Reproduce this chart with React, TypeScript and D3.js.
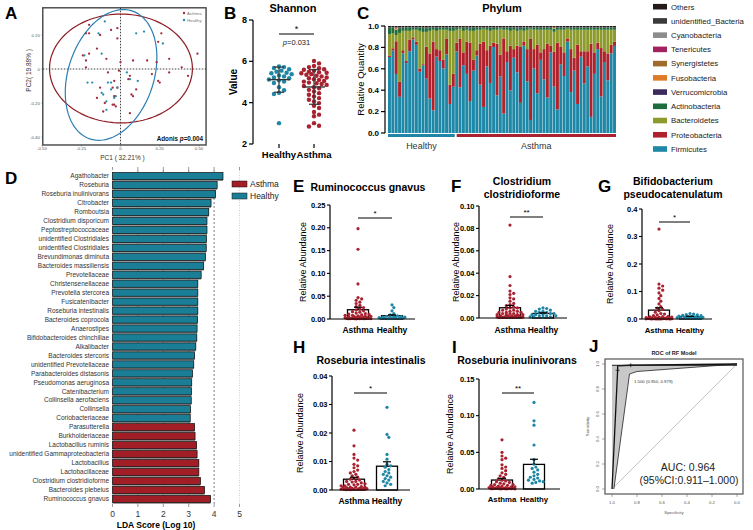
import React from 'react';
import * as d3 from 'd3';

const FONT = "'Liberation Sans', Arial, Helvetica, sans-serif";
const RED = '#a82230';
const TEAL = '#1f87a5';

// ---------------- A: PCoA ----------------
const pcoaAsthma = [[-0.20,0.26],[-0.22,0.21],[-0.20,0.21],[-0.13,0.20],[-0.15,0.12],[-0.24,0.08],[-0.20,0.09],[-0.09,0.06],[-0.22,0.05],[-0.22,0.01],[-0.08,-0.02],[-0.04,-0.07],[-0.13,-0.11],[-0.02,-0.11],[-0.04,-0.16],[-0.15,-0.17],[-0.04,-0.21],[-0.03,-0.22],[-0.11,-0.25],[-0.02,0.24],[-0.06,0.23],[-0.02,0.18],[0.26,0.21],[0.24,0.16],[0.49,0.09],[0.31,0.06],[0.08,0.05],[0.17,0.05],[0.00,0.04],[0.23,0.04],[0.39,0.01],[0.20,-0.03],[0.31,-0.02],[0.43,-0.04],[0.06,-0.04],[0.05,-0.06],[0.24,-0.07],[0.25,-0.08],[-0.05,-0.11],[0.10,-0.12],[0.07,-0.15],[-0.05,-0.21],[0.06,-0.26],[0.08,-0.16],[-0.01,-0.01],[-0.10,-0.20]];
const pcoaHealthy = [[-0.10,0.28],[-0.14,0.21],[-0.23,0.08],[-0.12,0.09],[-0.21,-0.08],[-0.18,-0.08],[-0.12,-0.14],[-0.11,-0.15],[-0.08,-0.08],[-0.06,-0.12],[-0.09,-0.19],[-0.09,-0.24],[-0.02,-0.11],[0.10,0.21],[0.15,0.22],[0.27,0.15],[0.04,-0.02],[0.06,-0.06],[0.11,-0.07],[-0.03,-0.16],[-0.06,-0.08],[-0.04,-0.17]];
const ellipseAsthma = { cx: 0.003, cy: 0.003, rx: 0.455, ry: 0.32, angle: 0 };
const ellipseHealthy = { cx: -0.06, cy: -0.035, rx: 0.27, ry: 0.40, angle: -22 };
const pcoaXTicks = [-0.5, -0.25, 0, 0.25, 0.5];
const pcoaXTickLabels = ['-0.50', '-0.25', '0', '0.25', '0.50'];
const pcoaYTicks = [-0.4, -0.2, 0, 0.2];
const pcoaYTickLabels = ['-0.40', '-0.20', '0', '0.20'];

// ---------------- B: Shannon ----------------
const shannonHealthy = [5.75,5.72,5.68,5.62,5.55,5.5,5.45,5.42,5.38,5.32,5.27,5.22,5.18,5.12,5.08,5.02,4.95,4.75,4.6,4.48,4.42,3.01];
const shannonAsthma = [6.02,5.9,5.78,5.72,5.67,5.62,5.59,5.55,5.5,5.47,5.45,5.42,5.38,5.35,5.3,5.27,5.22,5.18,5.13,5.1,5.05,5.02,4.97,4.94,4.9,4.86,4.81,4.75,4.7,4.62,4.54,4.46,4.38,4.3,4.22,4.14,4.06,3.98,3.85,3.74,3.55,3.42,3.34,3.01,2.88,2.85];
const shannonTicks = [2, 4, 6, 8];

// ---------------- C: Phylum ----------------
const sampleGroups = [...Array(20).fill('Healthy'), ...Array(48).fill('Asthma')];
const firmicutes = [0.70,0.76,0.56,0.34,0.74,0.65,0.76,0.87,0.82,0.57,0.63,0.51,0.32,0.21,0.71,0.67,0.60,0.73,0.27,0.43,
  0.76,0.42,0.63,0.55,0.30,0.58,0.72,0.45,0.24,0.62,0.47,0.80,0.35,0.52,0.18,0.66,0.40,0.70,0.57,0.28,0.82,0.48,0.12,0.60,0.37,0.68,0.50,0.33,0.75,0.44,0.22,0.64,0.53,0.85,0.38,0.58,0.27,0.71,0.46,0.62,0.15,0.55,0.78,0.34,0.66,0.49,0.74,0.81];
const proteobacteria = [0.01,0.02,0.31,0.14,0.03,0.02,0.11,0.02,0.03,0.03,0.01,0.30,0.42,0.64,0.07,0.10,0.08,0.15,0.18,0.12,
  0.08,0.45,0.12,0.30,0.55,0.10,0.05,0.38,0.60,0.15,0.35,0.04,0.48,0.20,0.70,0.10,0.42,0.08,0.25,0.52,0.04,0.30,0.75,0.18,0.45,0.07,0.28,0.50,0.06,0.33,0.62,0.16,0.22,0.03,0.40,0.12,0.55,0.05,0.30,0.14,0.68,0.20,0.06,0.45,0.10,0.25,0.08,0.04];
const bacteroidetes = [0.20,0.14,0.06,0.46,0.18,0.28,0.08,0.07,0.11,0.35,0.30,0.14,0.21,0.11,0.17,0.19,0.28,0.08,0.50,0.40,
  0.12,0.09,0.20,0.11,0.11,0.27,0.19,0.13,0.12,0.19,0.14,0.12,0.13,0.24,0.08,0.20,0.14,0.18,0.14,0.16,0.10,0.18,0.09,0.18,0.14,0.21,0.18,0.13,0.15,0.19,0.12,0.16,0.21,0.09,0.18,0.26,0.14,0.20,0.20,0.20,0.13,0.21,0.12,0.17,0.20,0.22,0.14,0.11];
const actinobacteria = [0.06,0.05,0.05,0.04,0.03,0.03,0.03,0.02,0.02,0.03,0.04,0.03,0.03,0.02,0.03,0.02,0.02,0.02,0.03,0.03,
  0.02,0.01,0.03,0.02,0.02,0.03,0.02,0.02,0.01,0.02,0.03,0.02,0.02,0.01,0.02,0.02,0.03,0.02,0.02,0.02,0.03,0.02,0.01,0.02,0.02,0.02,0.02,0.02,0.02,0.03,0.02,0.02,0.02,0.01,0.02,0.02,0.02,0.02,0.02,0.02,0.02,0.02,0.02,0.02,0.02,0.02,0.02,0.02];
const verrucomicrobia = [0,0,0,0.01,0,0,0,0,0,0,0,0.01,0,0,0,0,0,0,0,0,
  0,0,0,0,0.01,0,0,0,0,0,0,0,0,0,0,0,0,0,0.01,0,0,0,0,0,0,0,0,0,0,0,0,0,0,0,0,0,0,0,0,0,0,0,0,0,0,0,0,0];
const fusobacteria = [0,0,0.02,0,0,0,0,0,0,0,0,0,0,0,0,0,0,0,0,0,
  0,0,0,0,0,0,0,0,0,0,0,0,0,0,0,0,0,0,0,0,0,0,0,0,0,0,0,0,0,0.01,0,0,0,0,0,0,0,0,0,0,0,0,0,0,0,0,0,0];
const synergistetes = [0,0,0,0,0,0,0,0,0,0,0,0,0,0,0,0,0,0,0,0,
  0,0,0,0,0,0,0,0,0,0,0,0,0,0,0,0,0,0,0,0,0,0,0,0,0,0,0,0,0,0,0,0,0,0,0,0,0,0,0,0,0,0,0,0,0,0,0,0];
const tenericutes = [0,0,0,0,0,0,0,0,0,0,0,0,0,0,0,0,0,0,0,0,
  0,0,0,0,0,0,0,0,0,0,0,0,0,0,0,0,0,0,0,0,0,0,0,0,0,0,0,0,0,0,0,0,0,0,0,0,0,0,0,0,0,0,0,0,0,0,0,0];
const cyanobacteria = [0,0,0,0,0,0,0,0,0,0,0,0,0,0,0,0,0,0,0,0,
  0,0,0,0,0,0,0,0,0,0,0,0,0,0,0,0,0,0,0,0,0,0,0,0,0,0,0,0,0,0,0,0,0,0,0,0,0,0,0,0,0,0,0,0,0,0,0,0];
const unidentifiedBacteria = [0.005,0.005,0.005,0.005,0.005,0.005,0.005,0.005,0.005,0.005,0.005,0.005,0.005,0.005,0.005,0.005,0.005,0.005,0.005,0.005,
  0.005,0.005,0.005,0.005,0.005,0.005,0.005,0.005,0.005,0.005,0.005,0.005,0.005,0.005,0.005,0.005,0.005,0.005,0.005,0.005,0.005,0.005,0.005,0.005,0.005,0.005,0.005,0.005,0.005,0.005,0.005,0.005,0.005,0.005,0.005,0.005,0.005,0.005,0.005,0.005,0.005,0.005,0.005,0.005,0.005,0.005,0.005,0.005];
const others = [0.01,0.01,0.01,0.01,0.01,0.01,0.01,0.01,0.01,0.01,0.01,0.01,0.01,0.01,0.01,0.01,0.01,0.01,0.01,0.01,
  0.01,0.01,0.01,0.01,0.01,0.01,0.01,0.01,0.01,0.01,0.01,0.01,0.01,0.01,0.01,0.01,0.01,0.01,0.01,0.01,0.01,0.01,0.01,0.01,0.01,0.01,0.01,0.01,0.01,0.01,0.01,0.01,0.01,0.01,0.01,0.01,0.01,0.01,0.01,0.01,0.01,0.01,0.01,0.01,0.01,0.01,0.01,0.01];
const phylumKeys = ['Firmicutes','Proteobacteria','Bacteroidetes','Actinobacteria','Verrucomicrobia','Fusobacteria','Synergistetes','Tenericutes','Cyanobacteria','unidentified_Bacteria','Others'];
const phylumSeries = [firmicutes, proteobacteria, bacteroidetes, actinobacteria, verrucomicrobia, fusobacteria, synergistetes, tenericutes, cyanobacteria, unidentifiedBacteria, others];
const phylumColors = ['#1f88a6','#b0222b','#8d9a2c','#1e6b3b','#3b2a5c','#de7b26','#a06a2a','#a3215f','#8c8c8c','#3a3a3a','#241a1a'];
const phylumTicks = [0, 0.2, 0.4, 0.6, 0.8, 1.0];

// ---------------- D: LEfSe ----------------
const ldaTaxa = ['Agathobacter','Roseburia','Roseburia inulinivorans','Citrobacter','Romboutsia','Clostridium disporicum','Peptostreptococcaceae','unidentified Clostridiales','unidentified Clostridiales','Brevundimonas diminuta','Bacteroides massiliensis','Prevotellaceae','Christensenellaceae','Prevotella stercorea','Fusicatenibacter','Roseburia intestinalis','Bacteroides coprocola','Anaerostipes','Bifidobacteroides chinchillae','Alkalibacter','Bacteroides stercoris','unidentified Prevotellaceae','Parabacteroides distasonis','Pseudomonas aeruginosa','Catenibacterium','Collinsella aerofaciens','Collinsella','Coriobacteriaceae','Parasutterella','Burkholderiaceae','Lactobacillus ruminis','unidentified Gammaproteobacteria','Lactobacillus','Lactobacillaceae','Clostridium clostridioforme','Bacteroides plebeius','Ruminococcus gnavus'];
const ldaScores = [4.35,4.12,4.06,3.88,3.79,3.72,3.72,3.70,3.69,3.66,3.59,3.49,3.36,3.36,3.36,3.36,3.35,3.33,3.32,3.28,3.23,3.20,3.15,3.12,3.11,3.10,3.07,3.06,3.23,3.25,3.31,3.33,3.40,3.40,3.46,3.62,3.86];
const ldaGroups = [...Array(28).fill('Healthy'), ...Array(9).fill('Asthma')];
const ldaTicks = [0, 1, 2, 3, 4, 5];

// ---------------- E-I: relative abundance ----------------
const rgAsthma = [0.198,0.153,0.077,0.047,0.044,0.041,0.037,0.034,0.030,0.027,0.025,0.022,0.020,0.018,0.016,0.015,0.013,0.012,0.011,0.010,0.009,0.008,0.008,0.007,0.006,0.006,0.005,0.005,0.004,0.004,0.003,0.003,0.003,0.002,0.002,0.002,0.002,0.001,0.001,0.001,0.001,0.001,0.0005,0.0005,0.0005,0.0003];
const rgHealthy = [0.031,0.025,0.018,0.012,0.009,0.007,0.006,0.005,0.005,0.004,0.004,0.003,0.003,0.003,0.002,0.002,0.002,0.001,0.001,0.001];
const ccAsthma = [0.083,0.037,0.029,0.024,0.022,0.021,0.018,0.017,0.015,0.013,0.012,0.011,0.010,0.009,0.009,0.008,0.007,0.007,0.006,0.006,0.005,0.005,0.005,0.004,0.004,0.004,0.003,0.003,0.003,0.003,0.002,0.002,0.002,0.002,0.002,0.001,0.001,0.001,0.001,0.001,0.001,0.0005,0.0005,0.0005,0.0005,0.0005];
const ccHealthy = [0.009,0.0085,0.008,0.007,0.006,0.006,0.005,0.005,0.004,0.004,0.003,0.003,0.003,0.002,0.002,0.002,0.001,0.001,0.001,0.0005];
const bpAsthma = [0.327,0.127,0.12,0.112,0.105,0.095,0.085,0.075,0.065,0.055,0.045,0.04,0.035,0.03,0.025,0.02,0.018,0.015,0.012,0.01,0.009,0.008,0.007,0.006,0.005,0.005,0.004,0.004,0.003,0.003,0.002,0.002,0.002,0.001,0.001,0.001,0.001,0.001,0.0005,0.0005,0.0005,0.0005,0.0003,0.0003,0.0003,0.0003];
const bpHealthy = [0.02,0.018,0.016,0.015,0.013,0.012,0.011,0.01,0.009,0.008,0.007,0.006,0.005,0.005,0.004,0.004,0.003,0.003,0.002,0.002];
const riAsthma = [0.021,0.0155,0.0125,0.0112,0.0105,0.009,0.0085,0.0078,0.007,0.0065,0.006,0.0055,0.005,0.0045,0.004,0.0038,0.0035,0.003,0.003,0.0028,0.0025,0.0022,0.002,0.002,0.0018,0.0015,0.0015,0.0012,0.001,0.001,0.001,0.0008,0.0008,0.0006,0.0006,0.0005,0.0005,0.0004,0.0004,0.0003,0.0003,0.0002,0.0002,0.0002,0.0001,0.0001];
const riHealthy = [0.029,0.0195,0.0185,0.0125,0.0108,0.009,0.0085,0.008,0.0072,0.0065,0.006,0.0055,0.005,0.0045,0.004,0.0035,0.003,0.0025,0.002,0.0015];
const rvAsthma = [0.067,0.05,0.045,0.042,0.04,0.033,0.03,0.028,0.025,0.022,0.02,0.018,0.016,0.014,0.012,0.011,0.01,0.009,0.008,0.007,0.006,0.006,0.005,0.005,0.004,0.004,0.003,0.003,0.003,0.002,0.002,0.002,0.002,0.001,0.001,0.001,0.001,0.001,0.0005,0.0005,0.0005,0.0005,0.0005,0.0003,0.0003,0.0003];
const rvHealthy = [0.118,0.093,0.087,0.06,0.04,0.034,0.03,0.028,0.026,0.023,0.02,0.018,0.016,0.015,0.013,0.012,0.011,0.01,0.009,0.008];

// ---------------- J: ROC ----------------
const rocSpec = [1, 0.955, 0.955, 0.85, 0];
const rocSens = [0, 0.95, 0.985, 0.99, 1];
const ciUpperSpec = [1, 1, 0];
const ciUpperSens = [0, 0.99, 1];
const ciLowerSpec = [0, 0.80, 0.86, 0.985];
const ciLowerSens = [1, 0.94, 0.92, 0];
const rocTicks = [0, 0.2, 0.4, 0.6, 0.8, 1.0];

// ---------------- helpers ----------------
function swarm(values, yScale, cx, r, maxHalf) {
  const items = values.map((v, i) => ({ v, i, y: yScale(v) })).sort((a, b) => b.v - a.v);
  const placed = [];
  const out = new Array(values.length);
  const step = r * 1.15;
  for (const p of items) {
    let bestOff = 0, bestScore = -Infinity, chosen = null;
    for (let k = 0; k * step <= maxHalf && chosen === null; k++) {
      const offs = k === 0 ? [0] : [k * step, -k * step];
      for (const off of offs) {
        let md = Infinity;
        for (const q of placed) {
          const d = Math.hypot(cx + off - q.x, p.y - q.y);
          if (d < md) md = d;
        }
        if (md >= 2 * r * 0.95) { chosen = off; break; }
        if (md > bestScore) { bestScore = md; bestOff = off; }
      }
    }
    const off = chosen !== null ? chosen : bestOff;
    const pt = { x: cx + off, y: p.y };
    placed.push(pt);
    out[p.i] = pt;
  }
  return out;
}

function ellipsePath(e, x, y) {
  const A = (e.angle * Math.PI) / 180;
  const pts = d3.range(0, 121).map((i) => {
    const t = (i / 120) * 2 * Math.PI;
    const dx = e.rx * Math.cos(t), dy = e.ry * Math.sin(t);
    return [x(e.cx + dx * Math.cos(A) - dy * Math.sin(A)), y(e.cy + dx * Math.sin(A) + dy * Math.cos(A))];
  });
  return d3.line()(pts);
}

function PanelLetter({ x, y, t }) {
  return <text x={x} y={y} fontSize={17} fontWeight="bold" fill="#000">{t}</text>;
}

// ---------------- Panel A ----------------
function PanelA() {
  const x = d3.scaleLinear().domain([-0.5, 0.5]).range([42, 199]);
  const y = d3.scaleLinear().domain([-0.4, 0.2]).range([137, 35]);
  const fx0 = x(-0.495), fx1 = x(0.545), fy0 = y(0.36), fy1 = y(-0.447);
  return (
    <g>
      <PanelLetter x={5} y={19} t="A" />
      <rect x={fx0} y={fy0} width={fx1 - fx0} height={fy1 - fy0} fill="#fff" stroke="#444" strokeWidth={1.4} />
      <line x1={fx0} x2={fx1} y1={y(0)} y2={y(0)} stroke="#111" strokeWidth={0.8} strokeDasharray="1.5,1.5" />
      <line x1={x(0)} x2={x(0)} y1={fy0} y2={fy1} stroke="#111" strokeWidth={0.8} strokeDasharray="1.5,1.5" />
      <path d={ellipsePath(ellipseAsthma, x, y)} fill="none" stroke="#8e1c24" strokeWidth={1.2} />
      <path d={ellipsePath(ellipseHealthy, x, y)} fill="none" stroke="#2a7fb4" strokeWidth={1.2} />
      {pcoaAsthma.map((p, i) => <circle key={'a' + i} cx={x(p[0])} cy={y(p[1])} r={1.15} fill="#a3283a" />)}
      {pcoaHealthy.map((p, i) => <circle key={'h' + i} cx={x(p[0])} cy={y(p[1])} r={1.15} fill="#2a8ca8" />)}
      {pcoaXTicks.map((t, i) => (
        <g key={'xt' + i}>
          <line x1={x(t)} x2={x(t)} y1={fy1} y2={fy1 + 1.5} stroke="#555" strokeWidth={0.5} />
          <text x={x(t)} y={fy1 + 5.5} fontSize={4.3} fill="#555" textAnchor="middle">{pcoaXTickLabels[i]}</text>
        </g>
      ))}
      {pcoaYTicks.map((t, i) => (
        <g key={'yt' + i}>
          <line x1={fx0 - 1.5} x2={fx0} y1={y(t)} y2={y(t)} stroke="#555" strokeWidth={0.5} />
          <text x={fx0 - 3} y={y(t) + 1.5} fontSize={4.3} fill="#555" textAnchor="end">{pcoaYTickLabels[i]}</text>
        </g>
      ))}
      <text x={(fx0 + fx1) / 2 - 2} y={159.5} fontSize={6.5} fill="#333" textAnchor="middle">PC1 ( 32.21% )</text>
      <text transform={`translate(31,${(fy0 + fy1) / 2 - 6}) rotate(-90)`} fontSize={6.5} fill="#333" textAnchor="middle">PC2( 19.88% )</text>
      <text x={fx1 - 3} y={fy1 - 4} fontSize={6.3} fontWeight="bold" textAnchor="end" fill="#111">
        Adonis <tspan fontStyle="italic">p</tspan>=0.004
      </text>
      <circle cx={184} cy={13} r={1.2} fill="#a3283a" />
      <text x={187} y={14.5} fontSize={4.3} fill="#777">Asthma</text>
      <circle cx={184} cy={20} r={1.2} fill="#2a8ca8" />
      <text x={187} y={21.5} fontSize={4.3} fill="#777">Healthy</text>
    </g>
  );
}

// ---------------- Panel B ----------------
function PanelB() {
  const y = d3.scaleLinear().domain([2, 8]).range([144, 20]);
  const x = d3.scalePoint().domain(['Healthy', 'Asthma']).range([279, 314]);
  const groups = [
    { name: 'Healthy', vals: shannonHealthy, color: TEAL },
    { name: 'Asthma', vals: shannonAsthma, color: RED },
  ];
  return (
    <g>
      <PanelLetter x={224} y={19} t="B" />
      <text x={293} y={12} fontSize={11} fontWeight="bold" textAnchor="middle">Shannon</text>
      <line x1={253} x2={253} y1={y(8)} y2={y(2)} stroke="#000" strokeWidth={1.2} />
      {shannonTicks.map((t) => (
        <g key={t}>
          <line x1={249} x2={253} y1={y(t)} y2={y(t)} stroke="#000" strokeWidth={1.2} />
          <text x={247} y={y(t) + 3} fontSize={9} fontWeight="bold" textAnchor="end">{t}</text>
        </g>
      ))}
      <text transform={`translate(237,${y(5)}) rotate(-90)`} fontSize={10} fontWeight="bold" textAnchor="middle">Value</text>
      {groups.map((g) => {
        const cx = x(g.name);
        const pts = swarm(g.vals, y, cx, 2.2, 13);
        const m = d3.mean(g.vals), sd = d3.deviation(g.vals);
        return (
          <g key={g.name}>
            <line x1={cx} x2={cx} y1={y(2)} y2={y(2) + 4} stroke="#000" strokeWidth={1.2} />
            <text x={cx} y={158} fontSize={9.5} fontWeight="bold" textAnchor="middle">{g.name}</text>
            {pts.map((p, i) => <circle key={i} cx={p.x} cy={p.y} r={2.2} fill={g.color} />)}
            <line x1={cx - 11} x2={cx + 11} y1={y(m)} y2={y(m)} stroke="#333" strokeWidth={1.4} />
            <line x1={cx} x2={cx} y1={y(m - sd)} y2={y(m + sd)} stroke="#333" strokeWidth={1.2} />
            <line x1={cx - 5} x2={cx + 5} y1={y(m + sd)} y2={y(m + sd)} stroke="#333" strokeWidth={1.2} />
            <line x1={cx - 5} x2={cx + 5} y1={y(m - sd)} y2={y(m - sd)} stroke="#333" strokeWidth={1.2} />
          </g>
        );
      })}
      <line x1={x('Healthy')} x2={x('Asthma')} y1={34} y2={34} stroke="#000" strokeWidth={1} />
      <text x={(x('Healthy') + x('Asthma')) / 2} y={32} fontSize={9} textAnchor="middle">*</text>
      <text x={(x('Healthy') + x('Asthma')) / 2} y={45} fontSize={7.5} textAnchor="middle" fill="#222">
        <tspan fontStyle="italic">p</tspan>=0.031
      </text>
    </g>
  );
}

// ---------------- Panel C ----------------
function PanelC() {
  const rows = sampleGroups.map((g, i) => {
    const r = { idx: i, group: g };
    phylumKeys.forEach((k, j) => { r[k] = phylumSeries[j][i]; });
    return r;
  });
  const stack = d3.stack().keys(phylumKeys).offset(d3.stackOffsetExpand)(rows);
  const x = d3.scaleBand().domain(rows.map((r) => r.idx)).range([388, 616]).paddingInner(0.12);
  const y = d3.scaleLinear().domain([0, 1]).range([133, 26]);
  const nH = sampleGroups.filter((g) => g === 'Healthy').length;
  const hx0 = x(0), hx1 = x(nH - 1) + x.bandwidth();
  const ax0 = x(nH) + 1.5, ax1 = x(rows.length - 1) + x.bandwidth();
  return (
    <g>
      <PanelLetter x={357} y={19} t="C" />
      <text x={502} y={12} fontSize={11} fontWeight="bold" textAnchor="middle">Phylum</text>
      {stack.map((layer, li) => (
        <g key={layer.key} fill={phylumColors[li]}>
          {layer.map((d, i) => (
            <rect key={i} x={x(i)} width={x.bandwidth()} y={y(d[1])} height={Math.max(0, y(d[0]) - y(d[1]))} />
          ))}
        </g>
      ))}
      <line x1={385} x2={385} y1={y(1)} y2={y(0)} stroke="#000" strokeWidth={1.2} />
      {phylumTicks.map((t) => (
        <g key={t}>
          <line x1={381} x2={385} y1={y(t)} y2={y(t)} stroke="#000" strokeWidth={1.2} />
          <text x={379} y={y(t) + 2.8} fontSize={8} fontWeight="bold" textAnchor="end">{t.toFixed(1)}</text>
        </g>
      ))}
      <text transform={`translate(364,${y(0.5)}) rotate(-90)`} fontSize={9.5} textAnchor="middle">Relative Quantity</text>
      <rect x={hx0} y={134} width={hx1 - hx0} height={3} fill={TEAL} />
      <rect x={ax0} y={134} width={ax1 - ax0} height={3} fill={RED} />
      <text x={(hx0 + hx1) / 2} y={149} fontSize={9} textAnchor="middle" fill="#333">Healthy</text>
      <text x={(ax0 + ax1) / 2} y={149} fontSize={9} textAnchor="middle" fill="#333">Asthma</text>
      {phylumKeys.slice().reverse().map((k, i) => {
        const ci = phylumKeys.indexOf(k);
        const cy = 6.7 + i * 14.23;
        return (
          <g key={k}>
            <rect x={653} y={cy - 2.8} width={14} height={5.6} fill={phylumColors[ci]} />
            <text x={671} y={cy + 2.8} fontSize={7.8} fill="#222">{k}</text>
          </g>
        );
      })}
    </g>
  );
}

// ---------------- Panel D ----------------
function PanelD() {
  const x = d3.scaleLinear().domain([0, 5]).range([112.5, 239.5]);
  const y = d3.scaleBand().domain(ldaTaxa.map((_, i) => i)).range([172.5, 502.5]).paddingInner(0.2);
  const bw = y.bandwidth();
  return (
    <g>
      <PanelLetter x={5} y={184} t="D" />
      {ldaTicks.map((t) => (
        <g key={t}>
          <line x1={x(t)} x2={x(t)} y1={167} y2={170} stroke="#555" strokeWidth={0.6} />
          <line x1={x(t)} x2={x(t)} y1={504} y2={507} stroke="#555" strokeWidth={0.6} />
          <text x={x(t)} y={517} fontSize={8.5} textAnchor="middle" fill="#333">{t}</text>
        </g>
      ))}
      {ldaTicks.filter((t) => t > 0 && t < 5).map((t) => (
        <line key={'g' + t} x1={x(t)} x2={x(t)} y1={170} y2={504} stroke="#444" strokeWidth={0.7} strokeDasharray="2,2" />
      ))}
      <line x1={x(5)} x2={x(5)} y1={170} y2={504} stroke="#bbb" strokeWidth={0.7} strokeDasharray="1,1.5" />
      {ldaTaxa.map((name, i) => {
        const yy = y(i);
        const col = ldaGroups[i] === 'Healthy' ? '#1b7e97' : '#a21e27';
        return (
          <g key={i}>
            <rect x={x(0)} y={yy + 1.3} width={x(ldaScores[i]) - x(0)} height={bw} fill="#8a8a8a" />
            <rect x={x(0)} y={yy} width={x(ldaScores[i]) - x(0)} height={bw} fill={col} stroke="#111" strokeWidth={0.7} />
            <text x={109} y={yy + bw / 2 + 2.2} fontSize={6.5} textAnchor="end" fill="#333">{name}</text>
          </g>
        );
      })}
      <text x={156} y={528} fontSize={8.5} fontWeight="bold" textAnchor="middle">LDA Score (Log 10)</text>
      <rect x={232} y={181} width={15} height={6} fill="#a21e27" stroke="#111" strokeWidth={0.5} />
      <text x={250} y={187} fontSize={8.5} fill="#222">Asthma</text>
      <rect x={232} y={193} width={15} height={6} fill="#1b7e97" stroke="#111" strokeWidth={0.5} />
      <text x={250} y={199} fontSize={8.5} fill="#222">Healthy</text>
    </g>
  );
}

// ---------------- Panels E-I ----------------
const dotPanels = [
  { label: 'E', lx: 293, ly: 192, title: ['Ruminococcus gnavus'], tx: 368, ty: 191, asthma: rgAsthma, healthy: rgHealthy, max: 0.25, ticks: [0, 0.05, 0.1, 0.15, 0.2, 0.25], fmt: '.2f', axisX: 330, xEnd: 415, yTop: 205, yBottom: 319, cats: [358, 392], ylx: 306, sig: '*', sigY: 218, xly: 333, xlf: 8.5 },
  { label: 'F', lx: 451, ly: 192, title: ['Clostridium', 'clostridioforme'], tx: 522, ty: 185, asthma: ccAsthma, healthy: ccHealthy, max: 0.1, ticks: [0, 0.02, 0.04, 0.06, 0.08, 0.1], fmt: '.2f', axisX: 479, xEnd: 567, yTop: 206, yBottom: 318, cats: [510, 543], ylx: 459, sig: '**', sigY: 217, xly: 333, xlf: 8.5 },
  { label: 'G', lx: 598, ly: 192, title: ['Bifidobacterium', 'pseudocatenulatum'], tx: 673, ty: 185, asthma: bpAsthma, healthy: bpHealthy, max: 0.4, ticks: [0, 0.1, 0.2, 0.3, 0.4], fmt: '.1f', axisX: 642, xEnd: 712, yTop: 209, yBottom: 319, cats: [659, 690], ylx: 613, sig: '*', sigY: 222, xly: 333, xlf: 7.8 },
  { label: 'H', lx: 293, ly: 353, title: ['Roseburia intestinalis'], tx: 371, ty: 364, asthma: riAsthma, healthy: riHealthy, max: 0.04, ticks: [0, 0.01, 0.02, 0.03, 0.04], fmt: '.2f', axisX: 332, xEnd: 410, yTop: 376, yBottom: 490, cats: [354, 387], ylx: 303, sig: '*', sigY: 393, xly: 504, xlf: 8.5 },
  { label: 'I', lx: 452, ly: 353, title: ['Roseburia inulinivorans'], tx: 517, ty: 364, asthma: rvAsthma, healthy: rvHealthy, max: 0.15, ticks: [0, 0.05, 0.1, 0.15], fmt: '.2f', axisX: 479, xEnd: 560, yTop: 379, yBottom: 489, cats: [502, 534], ylx: 453, sig: '**', sigY: 393, xly: 502, xlf: 7.8 },
];

function DotPanel({ c }) {
  const y = d3.scaleLinear().domain([0, c.max]).range([c.yBottom, c.yTop]);
  const x = d3.scalePoint().domain(['Asthma', 'Healthy']).range(c.cats);
  const fmt = d3.format(c.fmt);
  const groups = [
    { name: 'Asthma', vals: c.asthma, color: RED },
    { name: 'Healthy', vals: c.healthy, color: TEAL },
  ];
  const barW = 21;
  return (
    <g>
      <PanelLetter x={c.lx} y={c.ly} t={c.label} />
      {c.title.map((t, i) => (
        <text key={i} x={c.tx} y={c.ty + i * 13} fontSize={10.5} fontWeight="bold" textAnchor="middle">{t}</text>
      ))}
      <line x1={c.axisX} x2={c.axisX} y1={y(c.max)} y2={y(0)} stroke="#000" strokeWidth={1.2} />
      {c.ticks.map((t) => (
        <g key={t}>
          <line x1={c.axisX - 3} x2={c.axisX} y1={y(t)} y2={y(t)} stroke="#000" strokeWidth={1.1} />
          <text x={c.axisX - 4.5} y={y(t) + 2.6} fontSize={7.5} fontWeight="bold" textAnchor="end">{fmt(t)}</text>
        </g>
      ))}
      <text transform={`translate(${c.ylx},${(y(0) + y(c.max)) / 2}) rotate(-90)`} fontSize={9} textAnchor="middle">Relative Abundance</text>
      {groups.map((g) => {
        const cx = x(g.name);
        const m = d3.mean(g.vals);
        const sem = d3.deviation(g.vals) / Math.sqrt(g.vals.length);
        const pts = swarm(g.vals, y, cx, 1.6, 13);
        return (
          <g key={g.name}>
            <rect x={cx - barW / 2} y={y(m)} width={barW} height={y(0) - y(m)} fill="#fff" stroke="#000" strokeWidth={1.3} />
            {pts.map((p, i) => <circle key={i} cx={p.x} cy={p.y} r={1.6} fill={g.color} />)}
            <line x1={cx} x2={cx} y1={y(m)} y2={y(m + sem)} stroke="#000" strokeWidth={1.2} />
            <line x1={cx - 4} x2={cx + 4} y1={y(m + sem)} y2={y(m + sem)} stroke="#000" strokeWidth={1.2} />
            <text x={cx} y={c.xly} fontSize={c.xlf} fontWeight="bold" textAnchor="middle">{g.name}</text>
          </g>
        );
      })}
      <line x1={c.axisX} x2={c.xEnd} y1={y(0)} y2={y(0)} stroke="#000" strokeWidth={1.2} />
      <line x1={x('Asthma')} x2={x('Healthy')} y1={c.sigY} y2={c.sigY} stroke="#000" strokeWidth={1} />
      <text x={(x('Asthma') + x('Healthy')) / 2} y={c.sigY - 2} fontSize={8} textAnchor="middle">{c.sig}</text>
    </g>
  );
}

// ---------------- Panel J ----------------
function PanelJ() {
  const x = d3.scaleLinear().domain([1, 0]).range([612, 737]);
  const y = d3.scaleLinear().domain([0, 1]).range([489, 364]);
  const line = d3.line();
  const roc = rocSpec.map((s, i) => [x(s), y(rocSens[i])]);
  const poly = [
    ...ciUpperSpec.map((s, i) => [x(s), y(ciUpperSens[i])]),
    ...ciLowerSpec.map((s, i) => [x(s), y(ciLowerSens[i])]),
  ];
  const lower = ciLowerSpec.map((s, i) => [x(s), y(ciLowerSens[i])]);
  return (
    <g>
      <PanelLetter x={589} y={352} t="J" />
      <text x={674} y={355} fontSize={5.5} fontWeight="bold" textAnchor="middle" fill="#222">ROC of RF Model</text>
      <rect x={605} y={359} width={138} height={135} fill="#fff" stroke="#555" strokeWidth={1.2} />
      <line x1={x(1)} y1={y(0)} x2={x(0)} y2={y(1)} stroke="#bbb" strokeWidth={0.9} />
      <path d={line(poly) + 'Z'} fill="#c8c8c8" stroke="none" />
      <path d={line(lower)} fill="none" stroke="#222" strokeWidth={0.8} />
      <path d={line(roc)} fill="none" stroke="#111" strokeWidth={1.3} />
      <line x1={x(1)} x2={x(0)} y1={y(0.99)} y2={y(0.99)} stroke="#222" strokeWidth={1} />
      {[[0.955, 0.95], [0.85, 0.99]].map((p, i) => (
        <g key={i} stroke="#111" strokeWidth={0.7}>
          <line x1={x(p[0]) - 2} x2={x(p[0]) + 2} y1={y(p[1])} y2={y(p[1])} />
          <line x1={x(p[0])} x2={x(p[0])} y1={y(p[1]) - 2} y2={y(p[1]) + 2} />
        </g>
      ))}
      <text x={634} y={383} fontSize={4.3} fill="#333">1.500 (0.950, 0.979)</text>
      {rocTicks.map((t) => (
        <g key={t}>
          <line x1={x(t)} x2={x(t)} y1={494} y2={497} stroke="#555" strokeWidth={0.5} />
          <text x={x(t)} y={504} fontSize={4.3} textAnchor="middle" fill="#555">{t.toFixed(1)}</text>
          <line x1={602} x2={605} y1={y(t)} y2={y(t)} stroke="#555" strokeWidth={0.5} />
          <text transform={`translate(599,${y(t)}) rotate(-90)`} fontSize={4.3} textAnchor="middle" fill="#555">{t.toFixed(1)}</text>
        </g>
      ))}
      <text x={674} y={514} fontSize={4.3} textAnchor="middle" fill="#555">Specificity</text>
      <text transform={`translate(589,${y(0.5)}) rotate(-90)`} fontSize={4.3} textAnchor="middle" fill="#555">Sensitivity</text>
      <text x={688} y={471} fontSize={10.5} textAnchor="middle" fill="#222">AUC: 0.964</text>
      <text x={689} y={484} fontSize={10.5} textAnchor="middle" fill="#222">(95%CI:0.911–1.000)</text>
    </g>
  );
}

export default function App() {
  return (
    <svg width={753} height={530} viewBox="0 0 753 530" style={{ position: 'absolute', left: 0, top: 0, background: '#fff' }} fontFamily={FONT}>
      <rect x={0} y={0} width={753} height={530} fill="#fff" />
      <PanelA />
      <PanelB />
      <PanelC />
      <PanelD />
      {dotPanels.map((c) => <DotPanel key={c.label} c={c} />)}
      <PanelJ />
    </svg>
  );
}
